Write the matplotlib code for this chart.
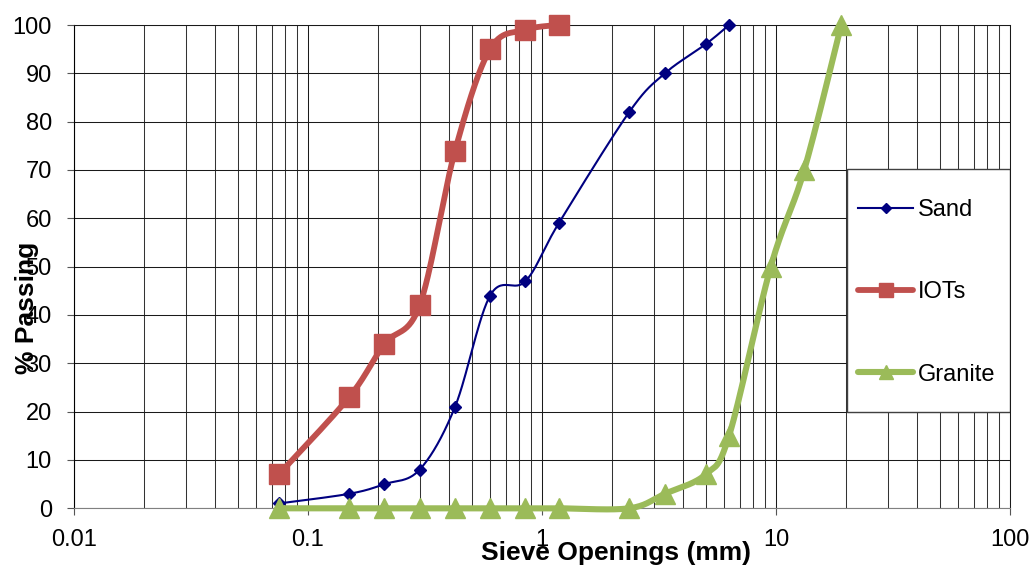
import numpy as np
import matplotlib
matplotlib.use('Agg')
import matplotlib.pyplot as plt
from matplotlib.patches import Rectangle

plt.rcParams['font.family'] = ['Liberation Sans', 'DejaVu Sans']

# Sieve openings (mm) and % passing
sieve_fine = [0.075, 0.15, 0.212, 0.3, 0.425, 0.6, 0.85, 1.18]
sieve_sand = [0.075, 0.15, 0.212, 0.3, 0.425, 0.6, 0.85, 1.18, 2.36, 3.35, 5.0, 6.3]
sieve_granite = [0.075, 0.15, 0.212, 0.3, 0.425, 0.6, 0.85, 1.18, 2.36, 3.35, 5.0, 6.3, 9.5, 13.2, 19.0]

sand = [1, 3, 5, 8, 21, 44, 47, 59, 82, 90, 96, 100]
iots = [7, 23, 34, 42, 74, 95, 99, 100]
granite = [0, 0, 0, 0, 0, 0, 0, 0, 0, 3, 7, 15, 50, 70, 100]

xticks = [0.01, 0.1, 1, 10, 100]
xticklabels = ['0.01', '0.1', '1', '10', '100']


def smooth(x, y, n=30):
    # Excel-style smoothed line: bezier through the points, in log-x screen space
    u = np.log10(x) * 234.0
    v = np.asarray(y, float) * 4.83
    p = np.column_stack([u, v])
    p = np.vstack([p[0], p, p[-1]])
    out = []
    t = np.linspace(0, 1, n, endpoint=False)[:, None]
    for i in range(1, len(p) - 2):
        p0, p1, p2, p3 = p[i - 1], p[i], p[i + 1], p[i + 2]
        c1 = p1 + (p2 - p0) / 6.0
        c2 = p2 - (p3 - p1) / 6.0
        seg = ((1 - t) ** 3) * p1 + 3 * ((1 - t) ** 2) * t * c1 + 3 * (1 - t) * t ** 2 * c2 + t ** 3 * p2
        out.append(seg)
    out.append(p[-2][None, :])
    out = np.vstack(out)
    return 10 ** (out[:, 0] / 234.0), out[:, 1] / 4.83, list(range(0, len(out), n))


fig = plt.figure(figsize=(10.35, 5.69), dpi=100)
ax = fig.add_axes([74 / 1035, 1 - 508.3 / 569, (1010 - 74) / 1035, (508.3 - 25) / 569])

xs, ys, idx = smooth(sieve_sand, sand)
ax.plot(xs, ys, color='#000080', lw=1.5, marker='D', ms=6.5, markevery=idx,
        label='Sand', zorder=3, clip_on=False)
xs, ys, idx = smooth(sieve_fine, iots)
ax.plot(xs, ys, color='#C0504D', lw=4.2, marker='s', ms=14, markevery=idx,
        label='IOTs', zorder=3, clip_on=False, solid_capstyle='round')
xs, ys, idx = smooth(sieve_granite, granite)
ax.plot(xs, ys, color='#9BBB59', lw=4.4, marker='^', ms=14, markevery=idx,
        label='Granite', zorder=3, clip_on=False, solid_capstyle='round')

ax.set_xscale('log')
ax.set_xlim(0.01, 100)
ax.set_ylim(0, 100)
ax.set_xticks(xticks)
ax.set_xticklabels(xticklabels)
ax.set_xticks([m * 10.0 ** e for e in range(-2, 2) for m in range(2, 10)], minor=True)
ax.set_xticklabels([], minor=True)
ax.set_yticks(range(0, 101, 10))

ax.grid(True, which='major', color='#1a1a1a', lw=0.75)
ax.grid(True, which='minor', axis='x', color='#333333', lw=0.75)
ax.set_axisbelow(True)

ax.tick_params(axis='x', which='major', direction='out', length=5, color='#555555',
               labelsize=17, pad=10)
ax.tick_params(axis='x', which='minor', length=0)
ax.tick_params(axis='y', direction='out', length=5, color='#555555', labelsize=17, pad=11)

for s in ['top', 'right']:
    ax.spines[s].set_color('#1a1a1a')
    ax.spines[s].set_linewidth(0.75)
ax.spines['left'].set_color('#000000')
ax.spines['bottom'].set_color('#808080')

# legend box
ax.add_patch(Rectangle((0.826, 0.199), 0.174, 0.503, transform=ax.transAxes,
                       facecolor='white', edgecolor='#404040', lw=1, zorder=4))
leg = ax.legend(loc='center left', bbox_to_anchor=(0.8376, 0.4467), frameon=False,
                fontsize=17, borderpad=0, borderaxespad=0, labelspacing=2.55,
                handlelength=2.33, handletextpad=0.21, numpoints=1, markerscale=0.75)
leg.set_zorder(5)

fig.text(616 / 1035, 1 - 553 / 569, 'Sieve Openings (mm)', ha='center', va='center',
         fontsize=19, fontweight='bold')
fig.text(27 / 1035, 1 - 308 / 569, '% Passing', ha='center', va='center', rotation=90,
         fontsize=19, fontweight='bold')

fig.savefig('out.png', dpi=100)
